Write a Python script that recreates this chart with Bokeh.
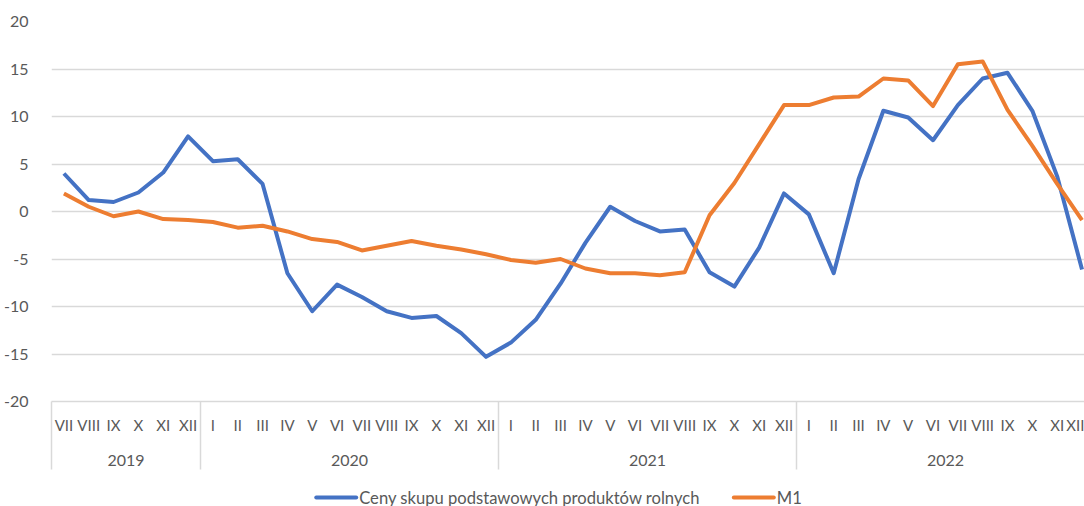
from bokeh.plotting import figure
from bokeh.layouts import column
from bokeh.models import Range1d, LinearAxis, FixedTicker
from bokeh.core.properties import value
from bokeh.embed import file_html
from bokeh.resources import INLINE

# Monthly labels VII 2019 - XII 2022
roman = ["I", "II", "III", "IV", "V", "VI", "VII", "VIII", "IX", "X", "XI", "XII"]
months = roman[6:] + roman * 3
years = ["2019", "2020", "2021", "2022"]
months_per_year = [6, 12, 12, 12]
y_ticks = [-20, -15, -10, -5, 0, 5, 10, 15, 20]
series_names = ["Ceny skupu podstawowych produktów rolnych", "M1"]

ceny_skupu = [4.0, 1.2, 1.0, 2.0, 4.1, 7.9,
              5.3, 5.5, 2.9, -6.5, -10.5, -7.7, -9.0, -10.5, -11.2, -11.0, -12.8, -15.3,
              -13.8, -11.4, -7.6, -3.3, 0.5, -1.0, -2.1, -1.9, -6.4, -7.9, -3.8, 1.9,
              -0.3, -6.5, 3.4, 10.6, 9.9, 7.5, 11.2, 14.0, 14.6, 10.6, 3.7, -6.1]
m1 = [1.9, 0.5, -0.5, 0.0, -0.8, -0.9,
      -1.1, -1.7, -1.5, -2.1, -2.9, -3.2, -4.1, -3.6, -3.1, -3.6, -4.0, -4.5,
      -5.1, -5.4, -5.0, -6.0, -6.5, -6.5, -6.7, -6.4, -0.4, 3.0, 7.1, 11.2,
      11.2, 12.0, 12.1, 14.0, 13.8, 11.1, 15.5, 15.8, 10.7, 6.9, 2.9, -0.9]

BLUE = "#4472C4"
ORANGE = "#ED7D31"
GRID = "#d9d9d9"
TEXT = "#595959"
FONT = "Lato"
W = 1084
LEFT = 50

# each month occupies two x units; month centres on odd integers
xs = [2 * i + 1 for i in range(len(months))]
bounds = [0]
for n in months_per_year:
    bounds.append(bounds[-1] + 2 * n)
year_centres = [(bounds[k] + bounds[k + 1]) // 2 for k in range(len(years))]

p = figure(width=W, height=470, output_backend="svg", toolbar_location=None,
           x_range=Range1d(0, 83.2), y_range=Range1d(-20, 20),
           x_axis_location=None, y_axis_location="left",
           min_border_left=LEFT, min_border_right=0, min_border_top=21,
           min_border_bottom=69)
p.outline_line_color = None
p.background_fill_color = "white"
p.border_fill_color = "white"

p.xgrid.visible = False
p.ygrid.grid_line_color = GRID
p.ygrid.grid_line_width = 1.5
p.ygrid.ticker = FixedTicker(ticks=y_ticks)

yax = p.yaxis[0]
yax.ticker = FixedTicker(ticks=y_ticks, minor_ticks=[])
yax.major_label_overrides = {t: str(t) for t in y_ticks}
yax.axis_line_color = None
yax.major_tick_line_color = None
yax.minor_tick_line_color = None
yax.major_label_standoff = 17
yax.major_label_text_font = FONT
yax.major_label_text_font_size = "16px"
yax.major_label_text_color = TEXT

# month axis; the year separators are its long minor ticks, and the
# negative standoff pulls the labels back up next to the axis line
SEP = 68
month_axis = LinearAxis(ticker=FixedTicker(ticks=xs, minor_ticks=bounds),
                        major_label_overrides={x: m for x, m in zip(xs, months)})
month_axis.axis_line_color = GRID
month_axis.axis_line_width = 1.5
month_axis.major_tick_line_color = None
month_axis.minor_tick_line_color = GRID
month_axis.minor_tick_line_width = 1.5
month_axis.minor_tick_in = 0
month_axis.minor_tick_out = SEP
month_axis.major_label_standoff = 14 - SEP
month_axis.major_label_text_font = FONT
month_axis.major_label_text_font_size = "15px"
month_axis.major_label_text_color = TEXT
p.add_layout(month_axis, "below")

year_axis = LinearAxis(ticker=FixedTicker(ticks=year_centres, minor_ticks=[]),
                       major_label_overrides={c: y for c, y in zip(year_centres, years)})
year_axis.axis_line_color = None
year_axis.major_tick_line_color = None
year_axis.minor_tick_line_color = None
year_axis.major_label_standoff = 12
year_axis.major_label_text_font = FONT
year_axis.major_label_text_font_size = "16px"
year_axis.major_label_text_color = TEXT
p.add_layout(year_axis, "below")

p.line(xs, ceny_skupu, line_color=BLUE, line_width=4, line_join="round")
p.line(xs, m1, line_color=ORANGE, line_width=4, line_join="round")

# legend strip underneath the chart; its frame lines up with the chart's
# frame in the column, so the x range is expressed in page pixels
H_LEG = 36
lg = figure(width=W, height=H_LEG, output_backend="svg", toolbar_location=None,
            x_range=Range1d(LEFT, W), y_range=Range1d(0, H_LEG),
            x_axis_location=None, y_axis_location=None,
            min_border_left=LEFT, min_border_right=0, min_border_top=0, min_border_bottom=0)
lg.outline_line_color = None
lg.xgrid.visible = False
lg.ygrid.visible = False

key_len, key_gap = 40, 3
key_starts = [315, 733]
mid = 9
for start, colour, name in zip(key_starts, [BLUE, ORANGE], series_names):
    lg.segment(x0=[start], y0=[mid], x1=[start + key_len], y1=[mid],
               line_color=colour, line_width=4, line_cap="round")
    lg.text(x=[start + key_len + key_gap], y=[mid], text=[name],
            text_font=value(FONT), text_font_size="16.6px", text_color=TEXT,
            text_baseline="middle", text_align="left")

open("out.html", "w").write(file_html(column(p, lg, spacing=0), INLINE))
